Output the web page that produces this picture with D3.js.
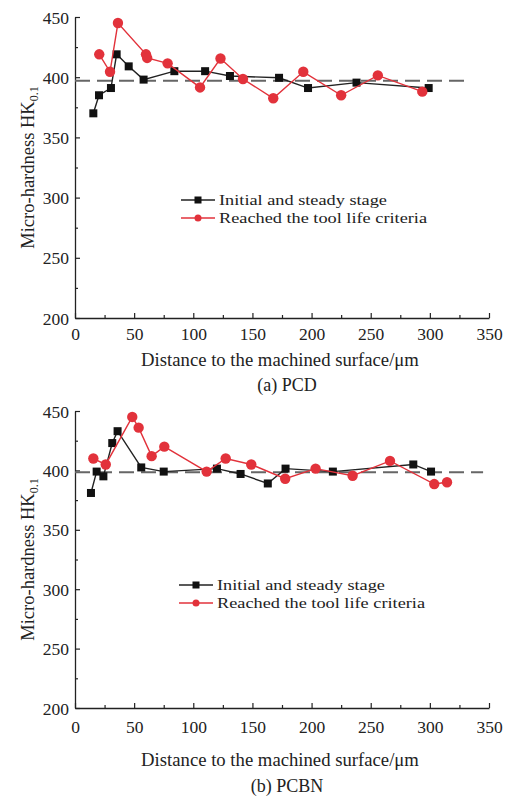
<!DOCTYPE html>
<html>
<head>
<meta charset="utf-8">
<script src="https://cdn.jsdelivr.net/npm/d3@7/dist/d3.min.js"></script>
<style>
  body { margin: 0; background: #fff; }
  svg { display: block; }
  text { font-family: "Liberation Serif", "Times New Roman", serif; fill: #222; }
</style>
</head>
<body>
<div id="chart"></div>
<script>
// (a) PCD
const pcdInitialX = [15.5, 20.3, 30.4, 35.2, 45.4, 58, 84, 110, 131, 172.5, 197, 238, 299];
const pcdInitialY = [370, 385, 391, 419, 409, 398, 405, 405, 401, 399.5, 391, 395.5, 391];
const pcdLifeX = [20.5, 29.6, 36.3, 60, 61, 78.3, 105.7, 123, 142, 167.6, 193, 225, 256, 293.6];
const pcdLifeY = [419, 404.5, 445, 419, 416, 411.5, 391.5, 415.5, 398.5, 382.5, 404.5, 385, 401.5, 388];
const pcdRefLine = {from: 0, to: 331, value: 397};

// (b) PCBN
const pcbnInitialX = [13.5, 18.3, 24, 31.5, 36, 56, 75, 120, 140, 163, 178, 218, 286, 301];
const pcbnInitialY = [381, 399, 395, 423, 433, 402.5, 399, 401.5, 397, 389, 401.5, 399, 405, 399];
const pcbnLifeX = [15.5, 26, 48.4, 53.8, 64.8, 75.5, 111.3, 127.4, 149, 177.7, 203.4, 234.7, 266.3, 303.7, 314.5];
const pcbnLifeY = [410, 405, 445, 436, 412, 420, 399, 410, 405, 393, 401.5, 395.5, 408, 388.5, 390];
const pcbnRefLine = {from: 0, to: 345, value: 398.5};

const xTicks = [0, 50, 100, 150, 200, 250, 300, 350];
const yTicks = [200, 250, 300, 350, 400, 450];
const seriesNames = ['Initial and steady stage', 'Reached the tool life criteria'];
const xTitle = 'Distance to the machined surface/\u03bcm';

const RED = '#e2323b';
const width = 511, height = 798;

const svg = d3.select('#chart')
  .append('svg')
    .attr('width', width)
    .attr('height', height);

function zip(xs, ys) {
  return xs.map((x, i) => ({x: x, y: ys[i]}));
}

function drawPanel(cfg) {
  const xScale = d3.scaleLinear().domain([0, 350]).range([75, 489]);
  const yScale = d3.scaleLinear().domain([200, 450]).range([cfg.bottom, cfg.top]);
  const g = svg.append('g');

  // minor ticks
  const minorX = d3.range(25, 350, 50);
  const minorY = d3.range(225, 450, 50);

  const xAxis = g.append('g')
    .attr('transform', `translate(0, ${cfg.bottom})`)
    .call(d3.axisBottom(xScale).tickValues(xTicks).tickSize(-5).tickPadding(cfg.tickPad).tickSizeOuter(0));
  g.append('g')
    .attr('transform', `translate(0, ${cfg.bottom})`)
    .call(d3.axisBottom(xScale).tickValues(minorX).tickSize(-3).tickFormat('').tickSizeOuter(0))
    .select('.domain').remove();

  const yAxis = g.append('g')
    .attr('transform', 'translate(75, 0)')
    .call(d3.axisLeft(yScale).tickValues(yTicks).tickSize(-5).tickPadding(6).tickSizeOuter(0));
  g.append('g')
    .attr('transform', 'translate(75, 0)')
    .call(d3.axisLeft(yScale).tickValues(minorY).tickSize(-3).tickFormat('').tickSizeOuter(0))
    .select('.domain').remove();

  g.selectAll('.domain').attr('stroke', '#222').attr('stroke-width', 1.3);
  g.selectAll('.tick line').attr('stroke', '#222').attr('stroke-width', 1.2);
  g.selectAll('.tick text')
    .attr('font-size', 17.5)
    .attr('font-family', '"Liberation Serif", serif')
    .attr('fill', '#222');
  xAxis.selectAll('.tick text').attr('dy', '0.71em');
  yAxis.selectAll('.tick text').attr('dy', '0.35em');

  // reference dashed line
  g.append('line')
    .attr('x1', xScale(cfg.ref.from))
    .attr('x2', xScale(cfg.ref.to))
    .attr('y1', yScale(cfg.ref.value))
    .attr('y2', yScale(cfg.ref.value))
    .attr('stroke', '#666')
    .attr('stroke-width', 2)
    .attr('stroke-dasharray', '15,7');

  const line = d3.line()
    .x((d) => xScale(d.x))
    .y((d) => yScale(d.y));

  const black = zip(cfg.initialX, cfg.initialY);
  const red = zip(cfg.lifeX, cfg.lifeY);

  g.append('path')
    .datum(black)
    .attr('fill', 'none')
    .attr('stroke', '#222')
    .attr('stroke-width', 1.4)
    .attr('d', line);
  g.selectAll('rect.pt')
    .data(black)
    .enter().append('rect')
      .attr('class', 'pt')
      .attr('x', (d) => xScale(d.x) - 4)
      .attr('y', (d) => yScale(d.y) - 4)
      .attr('width', 8)
      .attr('height', 8)
      .attr('fill', '#111');

  g.append('path')
    .datum(red)
    .attr('fill', 'none')
    .attr('stroke', RED)
    .attr('stroke-width', 1.4)
    .attr('d', line);
  g.selectAll('circle.pt')
    .data(red)
    .enter().append('circle')
      .attr('class', 'pt')
      .attr('cx', (d) => xScale(d.x))
      .attr('cy', (d) => yScale(d.y))
      .attr('r', 5.2)
      .attr('fill', RED);

  // legend
  const lg = g.append('g').attr('transform', `translate(${cfg.legendX}, ${cfg.legendY})`);
  seriesNames.forEach((name, i) => {
    const row = lg.append('g').attr('transform', `translate(0, ${i * 18})`);
    const color = i === 0 ? '#222' : RED;
    row.append('line')
      .attr('x1', 0).attr('x2', 34)
      .attr('stroke', color)
      .attr('stroke-width', 1.4);
    if (i === 0) {
      row.append('rect').attr('x', 13.5).attr('y', -3.5).attr('width', 7).attr('height', 7).attr('fill', '#111');
    } else {
      row.append('circle').attr('cx', 17).attr('r', 3.5).attr('fill', RED);
    }
    row.append('text')
      .attr('transform', 'translate(38, 0) scale(1.18, 1)')
      .attr('dy', '0.35em')
      .attr('font-size', 15.5)
      .text(name);
  });

  // axis titles
  g.append('text')
    .attr('x', 280)
    .attr('y', cfg.titleY)
    .attr('text-anchor', 'middle')
    .attr('font-size', 18.7)
    .text(xTitle);

  g.append('text')
    .attr('x', 287)
    .attr('y', cfg.captionY)
    .attr('text-anchor', 'middle')
    .attr('font-size', 18)
    .text(cfg.caption);

  const yt = g.append('text')
    .attr('transform', `translate(34, ${(cfg.top + cfg.bottom) / 2}) rotate(-90)`)
    .attr('text-anchor', 'middle')
    .attr('font-size', 18.5);
  yt.append('tspan').text('Micro-hardness HK');
  yt.append('tspan').attr('font-size', 12).attr('dy', 4).text('0.1');
}

drawPanel({
  top: 17, bottom: 318,
  initialX: pcdInitialX, initialY: pcdInitialY,
  lifeX: pcdLifeX, lifeY: pcdLifeY,
  ref: pcdRefLine,
  legendX: 181, legendY: 200,
  tickPad: 10, titleY: 366,
  caption: '(a) PCD', captionY: 391
});

drawPanel({
  top: 411, bottom: 708,
  initialX: pcbnInitialX, initialY: pcbnInitialY,
  lifeX: pcbnLifeX, lifeY: pcbnLifeY,
  ref: pcbnRefLine,
  legendX: 179, legendY: 585,
  tickPad: 13, titleY: 766,
  caption: '(b) PCBN', captionY: 792
});
</script>
</body>
</html>
